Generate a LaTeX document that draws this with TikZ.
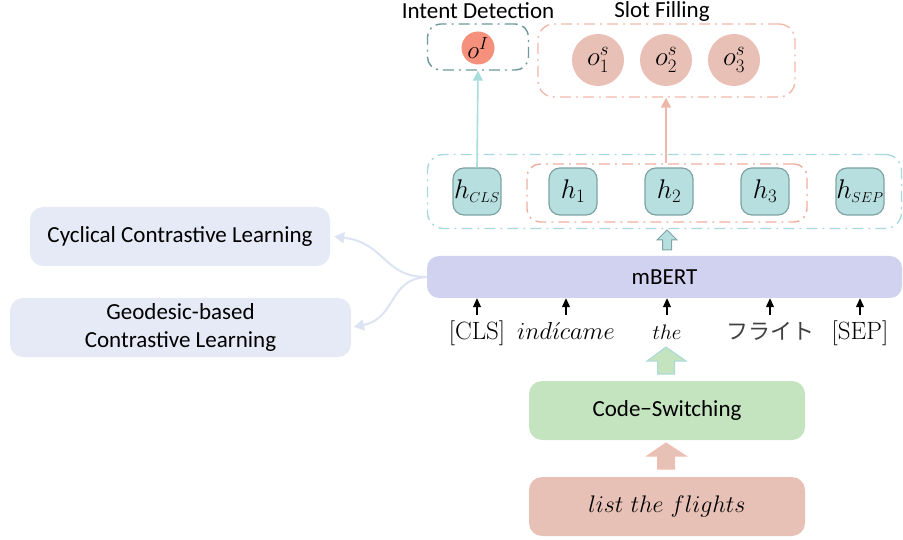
\RequirePackage{fix-cm}
\documentclass[tikz,border=0pt]{standalone}
\usepackage{graphicx}
\usepackage{fontspec}
\usetikzlibrary{arrows.meta}
\newfontfamily\carl{Carlito}
\newfontfamily\jpfont{Noto Sans CJK JP}
\definecolor{oIfill}{HTML}{F4907B}
\definecolor{osfill}{HTML}{E9C0B6}
\definecolor{hfill}{HTML}{B7DFE0}
\definecolor{hdraw}{HTML}{7FA3A3}
\definecolor{intentdraw}{HTML}{6F9898}
\definecolor{slotdraw}{HTML}{F0B9AA}
\definecolor{outerdraw}{HTML}{A9D9DD}
\definecolor{innerdraw}{HTML}{F0AE9E}
\definecolor{bertfill}{HTML}{D1D1F0}
\definecolor{csfill}{HTML}{C4E3BF}
\definecolor{lffill}{HTML}{E7C0B6}
\definecolor{clfill}{HTML}{E5EAF6}
\definecolor{curvecol}{HTML}{DCE4F3}
\definecolor{tealline}{HTML}{A8DCDD}
\definecolor{salmline}{HTML}{EDB8A9}
\newcommand{\smallsub}[1]{\scalebox{0.76}{$\scriptstyle #1$}}
\tikzset{
  dashdot/.style={dash pattern=on 11pt off 5pt on 2pt off 5pt, line width=1.4pt},
  hbox/.style={draw=hdraw, fill=hfill, line width=1.2pt, rounded corners=11pt, minimum width=48pt, minimum height=47pt, inner sep=0pt, font=\fontsize{27}{31}\selectfont},
  osnode/.style={circle, fill=osfill, minimum size=52pt, inner sep=0pt, font=\fontsize{27}{31}\selectfont},
  lbl/.style={font=\carl\fontsize{23}{27}\selectfont},
  wide/.style={rounded corners=13pt, inner sep=0pt, font=\carl\fontsize{23}{27}\selectfont, align=center},
  tok/.style={font=\fontsize{24}{28}\selectfont, anchor=base},
  tokarrow/.style={-{Triangle[width=8pt,length=9pt]}, line width=1.2pt, black},
}
\begin{document}
\begin{tikzpicture}[x=1pt,y=-1pt]
\useasboundingbox (0,0) rectangle (903,540);

% titles
\node[lbl] (tid) at (478,11) {Intent Detection};
\node[lbl] (tsf) at (662,11) {Slot Filling};

% output boxes
\node[draw=intentdraw, dashdot, rounded corners=13pt, minimum width=101pt, minimum height=46pt] (intent) at (478,47) {};
\node[draw=slotdraw, dashdot, rounded corners=16pt, minimum width=257pt, minimum height=73pt] (slot) at (666.5,60.5) {};
\node[circle, fill=oIfill, minimum size=33pt, inner sep=0pt, font=\fontsize{25}{29}\selectfont] (oI) at (478,48) {$o^I$};
\node[osnode] (os1) at (598,60) {$o^{s}_{1}$};
\node[osnode] (os2) at (666,60) {$o^{s}_{2}$};
\node[osnode] (os3) at (734,60) {$o^{s}_{3}$};

% hidden states
\node[draw=outerdraw, dashdot, rounded corners=16pt, minimum width=474pt, minimum height=74pt] (outer) at (664.5,191.5) {};
\node[draw=innerdraw, dashdot, rounded corners=13pt, minimum width=280pt, minimum height=58pt] (inner) at (667,193) {};
\node[hbox] (hcls) at (477,191.5) {$h_{\smallsub{CLS}}$};
\node[hbox] (h1) at (573,191.5) {$h_1$};
\node[hbox] (h2) at (669,191.5) {$h_2$};
\node[hbox] (h3) at (765,191.5) {$h_3$};
\node[hbox] (hsep) at (860,191.5) {$h_{\smallsub{SEP}}$};

\draw[tealline, line width=1.6pt, -{Triangle[width=10pt,length=10pt]}] (hcls.north) -- (intent.south);
\draw[salmline, line width=1.6pt, -{Triangle[width=10pt,length=10pt]}] (inner.north -| os2) -- (slot.south -| os2);

% small block arrow
\draw[hdraw, fill=hfill, line width=1pt] (662.5,250) -- (662.5,240) -- (657,240) -- (667,230) -- (677,240) -- (671.5,240) -- (671.5,250) -- cycle;

% mBERT
\node[fill=bertfill, rounded corners=12pt, minimum width=475pt, minimum height=42pt, inner sep=0pt, lbl] (bert) at (664.5,277) {mBERT};

% tokens
\node[tok, font=\fontsize{25}{29}\selectfont] (tcls) at (477,340) {[CLS]};
\node[tok, font=\fontsize{24.5}{29}\selectfont] (tind) at (566,340) {$ind\acute{\imath}came$};
\node[tok, font=\fontsize{21}{25}\selectfont] (tthe) at (667,340) {$the$};
\node[tok, font=\jpfont\fontsize{22}{26}\selectfont, text=black!75] (tjp) at (770,339) {フライト};
\node[tok, font=\fontsize{25}{29}\selectfont] (tsep) at (860,340) {[SEP]};
\coordinate (a1) at (477,315);
\coordinate (a2) at (566,315);
\coordinate (a3) at (667,315);
\coordinate (a4) at (770,315);
\coordinate (a5) at (860,315);
\foreach \c in {a1,a2,a3,a4,a5} {
  \draw[tokarrow] (\c) -- (\c |- bert.south);
}

% green block arrow
\draw[outerdraw, fill=csfill, line width=1pt] (657.5,374) -- (657.5,361) -- (647,361) -- (666,347) -- (686,361) -- (674.5,361) -- (674.5,374) -- cycle;

% Code-Switching
\node[fill=csfill, wide, minimum width=276pt, minimum height=59pt] (cs) at (667,410.5) {Code−Switching};

% salmon block arrow
\draw[innerdraw!80, fill=lffill, line width=1pt] (657.5,469) -- (657.5,456) -- (647,456) -- (666,443) -- (686,456) -- (674.5,456) -- (674.5,469) -- cycle;

% list the flights
\node[fill=lffill, rounded corners=13pt, minimum width=276pt, minimum height=59pt, inner sep=0pt, font=\fontsize{24}{28}\selectfont] (lf) at (667,506.5) {$list\ the\ flights$};

% contrastive learning boxes
\node[fill=clfill, wide, minimum width=300pt, minimum height=59pt] (ccl) at (180,236.5) {Cyclical Contrastive Learning};
\node[fill=clfill, wide, minimum width=341pt, minimum height=59pt] (gcl) at (180.5,327.5) {Geodesic-based\\[1pt]Contrastive Learning};

\coordinate (bl) at (bert.west);
\draw[curvecol, line width=2pt, -{Triangle[width=11pt,length=10pt]}] (bl) .. controls (383,277) and (386,243) .. ([xshift=4pt]ccl.east);
\draw[curvecol, line width=2pt, -{Triangle[width=11pt,length=10pt]}] (bl) .. controls (388,279) and (397,318) .. (354,327);
\end{tikzpicture}
\end{document}
